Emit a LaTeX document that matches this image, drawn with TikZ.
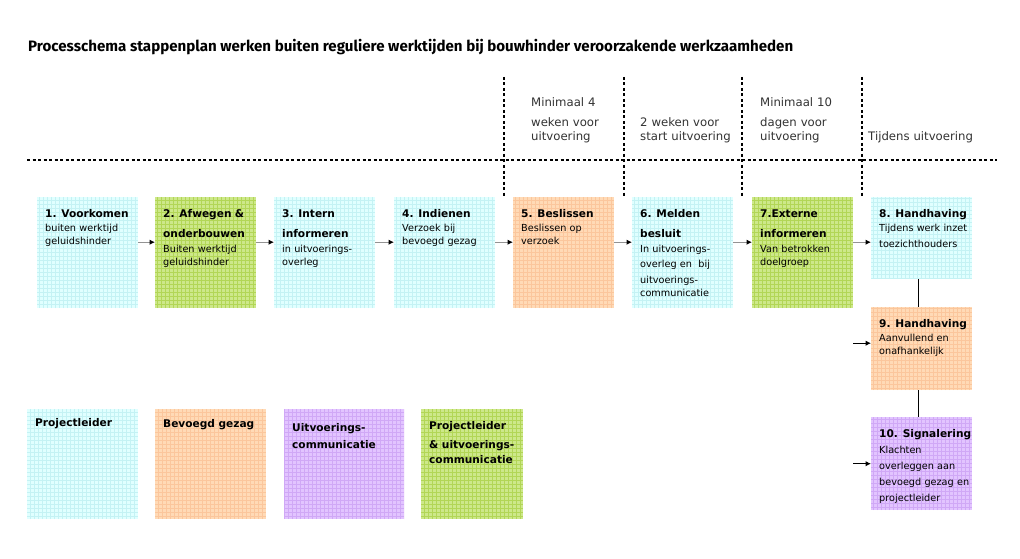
\documentclass[tikz,border=0pt]{standalone}
\usepackage{fontspec}
\setmainfont{DejaVu Sans}
\newfontfamily\titelfont{Fira Sans}
\usetikzlibrary{arrows.meta}

\definecolor{plkleur}{HTML}{E0FFFF}
\definecolor{plraster}{HTML}{C4F2F4}
\definecolor{bgkleur}{HTML}{FFDAB6}
\definecolor{bgraster}{HTML}{FBC69C}
\definecolor{uckleur}{HTML}{E2C4FF}
\definecolor{ucraster}{HTML}{D0A8F6}
\definecolor{mixkleur}{HTML}{CDE88A}
\definecolor{mixraster}{HTML}{B2D656}
\definecolor{tijdkleur}{HTML}{333333}

\newcommand{\stapkop}[1]{{\fontsize{10.6}{13}\selectfont\bfseries #1}}

\tikzset{
  vak/.style 2 args={anchor=north west, inner sep=0, minimum width=101pt,
    minimum height=111pt, fill=#1,
    path picture={\draw[#2, line width=0.6pt] (path picture bounding box.south west)
      grid[step=4pt] (path picture bounding box.north east);}},
  pl/.style={vak={plkleur}{plraster}},
  bg/.style={vak={bgkleur}{bgraster}},
  uc/.style={vak={uckleur}{ucraster}},
  mix/.style={vak={mixkleur}{mixraster}},
  tekst/.style={anchor=base west, inner sep=0, text width=94pt, align=left,
    font=\fontsize{9.7}{13}\selectfont},
  legenda/.style={tekst, font=\fontsize{10.6}{13}\selectfont\bfseries},
  tijd/.style={anchor=base west, inner sep=0, text width=110pt, align=left,
    text=tijdkleur, font=\fontsize{11.7}{14}\selectfont},
  titel/.style={anchor=base west, inner sep=0,
    font=\titelfont\fontsize{15.1}{18}\selectfont\bfseries},
  grens/.style={line width=1.2pt, dash pattern=on 3pt off 2.5pt},
  pijl/.style={draw=gray!85, line width=1.4pt,
    -{Latex[length=5.5pt,width=5.5pt,color=black]}},
  zwartpijl/.style={draw=black, line width=1pt, -{Latex[length=5.5pt,width=5.5pt]}},
  lijn/.style={draw=black, line width=1pt}
}

\begin{document}
\begin{tikzpicture}[x=1pt,y=-1pt]
	\path [use as bounding box, fill=white] (0,0) rectangle (1020,559);

	\node [titel] (titel) at (28,52) {Processchema stappenplan werken buiten reguliere werktijden bij bouwhinder veroorzakende werkzaamheden};

	% tijdlijn
	\draw [grens] (27,160) -- (997,160);
	\draw [grens] (504,77) -- (504,197);
	\draw [grens] (624,77) -- (624,197);
	\draw [grens] (742,77) -- (742,197);
	\draw [grens] (862,77) -- (862,197);

	\node [tijd] (tijd5) at (531,107) {Minimaal 4\\[6pt]weken voor\\uitvoering};
	\node [tijd] (tijd6) at (640,127) {2 weken voor\\start uitvoering};
	\node [tijd] (tijd7) at (760,107) {Minimaal 10\\[6pt]dagen voor\\uitvoering};
	\node [tijd] (tijd8) at (868,141) {Tijdens uitvoering};

	% stappen
	\node [pl] (v1) at (37,197) {};
	\node [mix] (v2) at (155,197) {};
	\node [pl] (v3) at (274,197) {};
	\node [pl] (v4) at (394,197) {};
	\node [bg] (v5) at (513,197) {};
	\node [pl] (v6) at (632,197) {};
	\node [mix] (v7) at (752,197) {};
	\node [pl, minimum height=82pt] (v8) at (871,197) {};
	\node [bg, minimum height=83pt] (v9) at (871,307) {};
	\node [uc, minimum height=93pt] (v10) at (871,417) {};

	\node [tekst] (t1) at ([shift={(8,20)}]v1.north west)
		{\stapkop{1. Voorkomen}\\[1pt]buiten werktijd\\geluidshinder};
	\node [tekst] (t2) at ([shift={(8,20)}]v2.north west)
		{\stapkop{2. Afwegen \&}\\[7pt]\stapkop{onderbouwen}\\[2pt]Buiten werktijd\\geluidshinder};
	\node [tekst] (t3) at ([shift={(8,20)}]v3.north west)
		{\stapkop{3. Intern}\\[7pt]\stapkop{informeren}\\[2pt]in uitvoerings-\\overleg};
	\node [tekst] (t4) at ([shift={(8,20)}]v4.north west)
		{\stapkop{4. Indienen}\\[1pt]Verzoek bij\\bevoegd gezag};
	\node [tekst] (t5) at ([shift={(8,20)}]v5.north west)
		{\stapkop{5. Beslissen}\\[1pt]Beslissen op\\verzoek};
	\node [tekst] (t6) at ([shift={(8,20)}]v6.north west)
		{\stapkop{6. Melden}\\[7pt]\stapkop{besluit}\\[2pt]In uitvoerings-\\[2pt]overleg en~ bij\\[3pt]uitvoerings-\\communicatie};
	\node [tekst] (t7) at ([shift={(8,20)}]v7.north west)
		{\stapkop{7.Externe}\\[7pt]\stapkop{informeren}\\[2pt]Van betrokken\\doelgroep};
	\node [tekst] (t8) at ([shift={(8,20)}]v8.north west)
		{\stapkop{8. Handhaving}\\[1pt]Tijdens werk inzet\\[3pt]toezichthouders};
	\node [tekst] (t9) at ([shift={(8,20)}]v9.north west)
		{\stapkop{9. Handhaving}\\[1pt]Aanvullend en\\onafhankelijk};
	\node [tekst] (t10) at ([shift={(8,20)}]v10.north west)
		{\stapkop{10. Signalering}\\[3pt]Klachten\\[3pt]overleggen aan\\[3pt]bevoegd gezag en\\[3pt]projectleider};

	\draw [pijl] ([yshift=10.5pt]v1.east) -- ([yshift=10.5pt]v2.west);
	\draw [pijl] ([yshift=10.5pt]v2.east) -- ([yshift=10.5pt]v3.west);
	\draw [pijl] ([yshift=10.5pt]v3.east) -- ([yshift=10.5pt]v4.west);
	\draw [pijl] ([yshift=10.5pt]v4.east) -- ([yshift=10.5pt]v5.west);
	\draw [pijl] ([yshift=10.5pt]v5.east) -- ([yshift=10.5pt]v6.west);
	\draw [pijl] ([yshift=10.5pt]v6.east) -- ([yshift=10.5pt]v7.west);
	\draw [pijl] ([yshift=10.5pt]v7.east) -- ([yshift=-4pt]v8.west);

	\draw [lijn] ([xshift=-3pt]v8.south) -- ([xshift=-3pt]v9.north);
	\draw [lijn] ([xshift=-3pt]v9.south) -- ([xshift=-3pt]v10.north);

	\coordinate (in9) at ([shift={(-18,-5.5)}]v9.west);
	\coordinate (in10) at ([xshift=-18pt]v10.west);
	\draw [zwartpijl] (in9) -- (in9 -| v9.west);
	\draw [zwartpijl] (in10) -- (in10 -| v10.west);

	% legenda
	\node [pl, minimum width=111pt, minimum height=110pt] (l1) at (27,409) {};
	\node [bg, minimum width=111pt, minimum height=110pt] (l2) at (155,409) {};
	\node [uc, minimum width=120pt, minimum height=110pt] (l3) at (284,409) {};
	\node [mix, minimum width=102pt, minimum height=110pt] (l4) at (421,409) {};

	\node [legenda] (lt1) at ([shift={(8,17)}]l1.north west) {Projectleider};
	\node [legenda] (lt2) at ([shift={(8,18)}]l2.north west) {Bevoegd gezag};
	\node [legenda] (lt3) at ([shift={(8,22)}]l3.north west) {Uitvoerings-\\[4pt]communicatie};
	\node [legenda] (lt4) at ([shift={(8,20)}]l4.north west) {Projectleider\\[6pt]\& uitvoerings-\\[2pt]communicatie};
\end{tikzpicture}
\end{document}
